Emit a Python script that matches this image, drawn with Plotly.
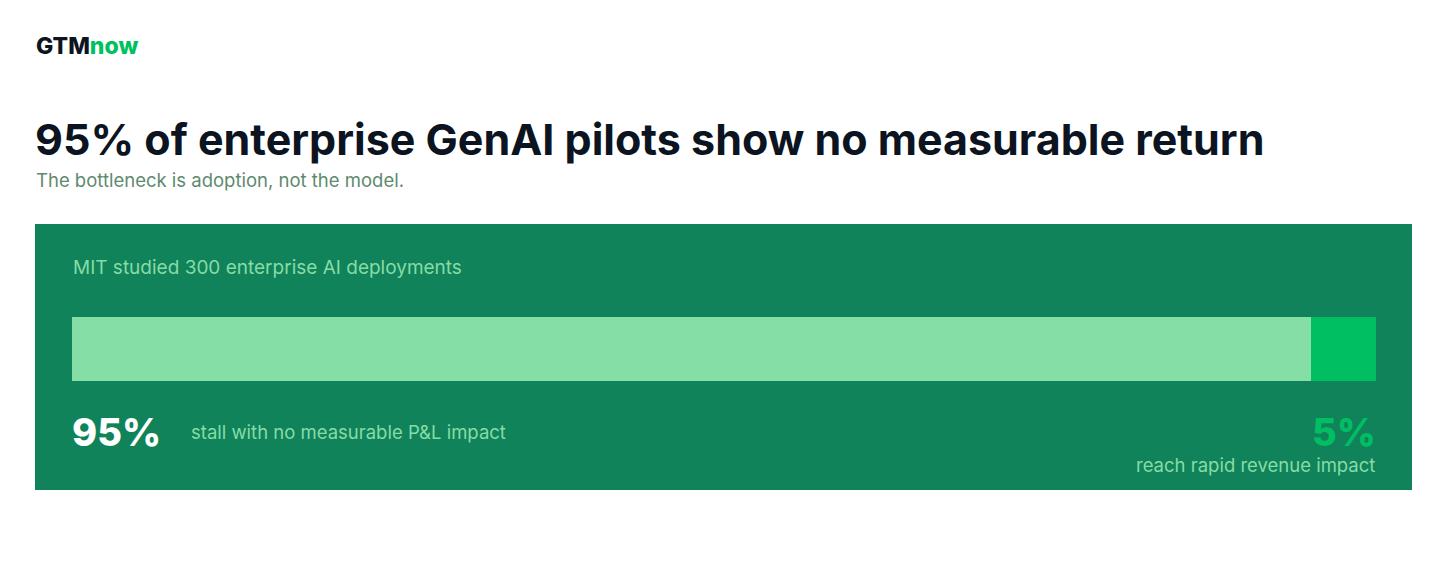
import plotly.graph_objects as go

# page body has an 8px margin: lay the figure out in page pixels
OFF = 8
W, H = 1456 - 2 * OFF, 567 - 2 * OFF

# ---- data ----
segments = ["Stall with no measurable P&L impact", "Reach rapid revenue impact"]
shares = [95, 5]
share_labels = ["95%", "5%"]
share_texts = ["stall with no measurable P&L impact", "reach rapid revenue impact"]
seg_colors = ["#84DEA6", "#00BF63"]

title = "95% of enterprise GenAI pilots show no measurable return"
subtitle = "The bottleneck is adoption, not the model."
panel_label = "MIT studied 300 enterprise AI deployments"

PANEL = "#10835A"
LABEL = "#86DCA6"
FONT = "Inter"

def px(x):
    return (x - OFF) / W

def py(y):
    return 1 - (y - OFF) / H

fig = go.Figure()
for seg, val, col in zip(segments, shares, seg_colors):
    fig.add_trace(go.Bar(
        x=[val], y=["MIT"], orientation="h", name=seg,
        marker=dict(color=col, line=dict(width=0)),
        width=1, hoverinfo="skip", showlegend=False,
    ))

fig.update_layout(
    width=W, height=H,
    margin=dict(l=0, r=0, t=0, b=0),
    paper_bgcolor="white", plot_bgcolor="rgba(0,0,0,0)",
    barmode="stack", bargap=0,
    xaxis=dict(domain=[px(72), px(1376)], range=[0, sum(shares)], visible=False, fixedrange=True),
    yaxis=dict(domain=[py(381), py(317)], range=[-0.5, 0.5], visible=False, fixedrange=True),
    font=dict(family=FONT),
)

fig.add_shape(type="rect", xref="paper", yref="paper",
              x0=px(35), x1=px(1412), y0=py(490), y1=py(224),
              fillcolor=PANEL, line=dict(width=0), layer="below")

ann = []
ann.append(dict(x=px(34), y=py(46), text="GTM<span style='color:#00C160'>now</span>",
                font=dict(size=23, color="#0B1420", family=FONT, weight=800), xanchor="left", yanchor="middle"))
ann.append(dict(x=px(33), y=py(139), text=title,
                font=dict(size=43, color="#0B1420", family=FONT, weight=700), xanchor="left", yanchor="middle"))
ann.append(dict(x=px(34), y=py(180), text=subtitle,
                font=dict(size=18.5, color="#5E8A6E", family=FONT), xanchor="left", yanchor="middle"))
ann.append(dict(x=px(71), y=py(267), text=panel_label,
                font=dict(size=19, color=LABEL, family=FONT), xanchor="left", yanchor="middle"))
ann.append(dict(x=px(70), y=py(432), text=share_labels[0],
                font=dict(size=38, color="white", family=FONT, weight=800), xanchor="left", yanchor="middle"))
ann.append(dict(x=px(189), y=py(432), text=share_texts[0],
                font=dict(size=18.5, color=LABEL, family=FONT), xanchor="left", yanchor="middle"))
ann.append(dict(x=px(1378), y=py(432), text=share_labels[1],
                font=dict(size=38, color=seg_colors[1], family=FONT, weight=800), xanchor="right", yanchor="middle"))
ann.append(dict(x=px(1377), y=py(465), text=share_texts[1],
                font=dict(size=18.5, color=LABEL, family=FONT), xanchor="right", yanchor="middle"))
for a in ann:
    a.update(xref="paper", yref="paper", showarrow=False)
fig.update_layout(annotations=ann)

fig.write_html("out.html", config={"displayModeBar": False})
